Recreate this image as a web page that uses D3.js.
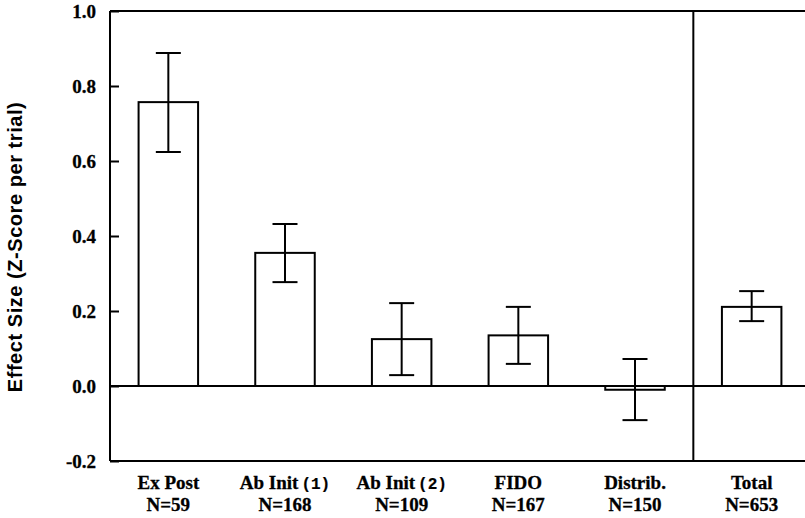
<!DOCTYPE html>
<html>
<head>
<meta charset="utf-8">
<script src="https://cdn.jsdelivr.net/npm/d3@7"></script>
<style>
  html, body { margin: 0; padding: 0; background: #fff; }
  svg { display: block; }
  .serif { font-family: "Liberation Serif", "Times New Roman", Times, serif; font-weight: bold; stroke: #000; stroke-width: 0.3px; }
  .sans { font-family: "Liberation Sans", Arial, Helvetica, sans-serif; font-weight: bold; }
  .mono { font-family: "Liberation Mono", "Courier New", monospace; font-weight: bold; }
</style>
</head>
<body>
<svg id="chart" width="805" height="518"></svg>
<script>
// ---- data ----
const categories = ["Ex Post", "Ab Init (1)", "Ab Init (2)", "FIDO", "Distrib.", "Total"];
const labelMain = ["Ex Post", "Ab Init", "Ab Init", "FIDO", "Distrib.", "Total"];
const labelMono = ["", "(1)", "(2)", "", "", ""];
const sampleSizes = ["N=59", "N=168", "N=109", "N=167", "N=150", "N=653"];
const effectSizes = [0.757, 0.355, 0.125, 0.135, -0.010, 0.211];
const errorHigh = [0.888, 0.432, 0.221, 0.211, 0.072, 0.253];
const errorLow = [0.624, 0.277, 0.029, 0.059, -0.091, 0.173];
const yTicks = [-0.2, 0.0, 0.2, 0.4, 0.6, 0.8, 1.0];
const yTickLabels = ["-0.2", "0.0", "0.2", "0.4", "0.6", "0.8", "1.0"];
const yTitle = "Effect Size (Z-Score per trial)";

(function () {
// ---- layout ----
const svg = d3.select("#chart");
const pLeft = 110, pTop = 11, pBottom = 461, pRight = 810;

const x = d3.scaleBand().domain(categories).range([pLeft, pRight]).paddingInner(0.49).paddingOuter(0.245);
const y = d3.scaleLinear().domain([-0.2, 1.0]).range([pBottom, pTop]);

// bars
svg.append("g").selectAll("rect").data(categories).join("rect")
  .attr("x", d => x(d))
  .attr("width", x.bandwidth())
  .attr("y", (d, i) => y(Math.max(0, effectSizes[i])))
  .attr("height", (d, i) => Math.abs(y(effectSizes[i]) - y(0)))
  .attr("fill", "#fff")
  .attr("stroke", "#000")
  .attr("stroke-width", 2);

// zero line
svg.append("line")
  .attr("x1", pLeft).attr("x2", 805)
  .attr("y1", y(0)).attr("y2", y(0))
  .attr("stroke", "#000").attr("stroke-width", 2);

// error bars
const capHalf = 12.5;
const eb = svg.append("g").attr("stroke", "#000").attr("stroke-width", 2);
categories.forEach((c, i) => {
  const cx = x(c) + x.bandwidth() / 2;
  eb.append("line").attr("x1", cx).attr("x2", cx).attr("y1", y(errorHigh[i])).attr("y2", y(errorLow[i]));
  eb.append("line").attr("x1", cx - capHalf).attr("x2", cx + capHalf).attr("y1", y(errorHigh[i])).attr("y2", y(errorHigh[i]));
  eb.append("line").attr("x1", cx - capHalf).attr("x2", cx + capHalf).attr("y1", y(errorLow[i])).attr("y2", y(errorLow[i]));
});

// frame: top line, bottom line, divider
svg.append("line").attr("x1", pLeft).attr("x2", 805).attr("y1", pTop).attr("y2", pTop)
  .attr("stroke", "#000").attr("stroke-width", 2);
svg.append("line").attr("x1", pLeft).attr("x2", 805).attr("y1", pBottom).attr("y2", pBottom)
  .attr("stroke", "#000").attr("stroke-width", 2);
const divX = (x(categories[4]) + x.bandwidth() + x(categories[5])) / 2;
svg.append("line").attr("x1", divX).attr("x2", divX).attr("y1", pTop).attr("y2", pBottom)
  .attr("stroke", "#000").attr("stroke-width", 2);

// y axis (ticks inward)
const yAxis = d3.axisRight(y).tickValues(yTicks).tickSize(9).tickFormat("");
const ya = svg.append("g").attr("transform", `translate(${pLeft},0)`).call(yAxis);
ya.select(".domain").attr("stroke-width", 2).attr("d", `M0,${pTop}V${pBottom}`);
ya.selectAll(".tick line").attr("stroke-width", 2);

// y tick labels
svg.append("g").selectAll("text").data(yTicks).join("text")
  .attr("class", "serif")
  .attr("x", 96)
  .attr("y", d => y(d))
  .attr("dy", "0.35em")
  .attr("text-anchor", "end")
  .style("font-size", "19px")
  .text((d, i) => yTickLabels[i]);

// y title
svg.append("text")
  .attr("class", "sans")
  .attr("transform", `translate(22,247) rotate(-90)`)
  .attr("text-anchor", "middle")
  .style("font-size", "20px")
  .style("letter-spacing", "0.55px")
  .text(yTitle);

// category labels
categories.forEach((c, i) => {
  const cx = x(c) + x.bandwidth() / 2;
  const t = svg.append("text").attr("class", "serif").attr("text-anchor", "middle")
    .style("font-size", "19px").attr("x", cx).attr("y", 489);
  t.append("tspan").text(labelMain[i]);
  if (labelMono[i]) {
    t.append("tspan").attr("class", "mono").attr("dx", 3).style("font-size", "16px").style("stroke-width", "0.2px").text(labelMono[i]);
  }
  svg.append("text").attr("class", "serif").attr("text-anchor", "middle")
    .style("font-size", "19px").attr("x", cx).attr("y", 511).text(sampleSizes[i]);
});
})();
</script>
</body>
</html>
